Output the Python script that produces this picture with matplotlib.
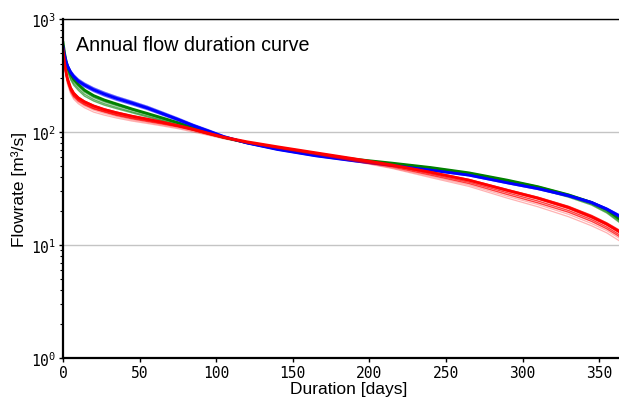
import matplotlib
matplotlib.use("Agg")
import matplotlib.pyplot as plt
from matplotlib.ticker import LogLocator, FixedLocator

days = [0, 1, 2, 3, 5, 7, 10, 14, 20, 27, 35, 45, 55, 65, 75, 85, 95, 105, 120, 140,
        165, 190, 215, 240, 265, 290, 310, 330, 345, 355, 365]

blue_1 = [570, 480, 420, 383, 338, 310, 282, 260, 236, 216, 198, 180, 163, 145, 129, 114,
          102, 91, 80, 70, 61.5, 55.5, 50.5, 46, 41.5, 35.5, 31.5, 27.3, 23.8, 20.8, 17.5]
blue_2 = [580, 492, 432, 395, 350, 322, 294, 271, 246, 225, 206, 187, 169, 150, 133, 117,
          104.5, 92.5, 81, 70.5, 62, 56, 51, 46.5, 42, 36, 32, 27.8, 24.2, 21.2, 18]
blue_3 = [560, 468, 408, 372, 328, 300, 274, 251, 228, 208, 191, 174, 158, 141, 126, 111.5,
          100, 90, 79, 69.5, 61, 55, 50, 45.5, 41, 35, 31, 26.8, 23.3, 20.4, 17]
blue_4 = [575, 486, 426, 389, 344, 316, 288, 266, 241, 220, 202, 184, 166, 148, 131, 116,
          103, 91.5, 80.5, 70, 61.5, 55.5, 50.5, 46, 41.5, 35.8, 31.8, 27.5, 24, 21, 17.8]

green_1 = [620, 500, 425, 380, 325, 293, 264, 235, 210, 192, 177, 160, 146, 133, 121, 109,
           99, 90, 80.5, 71, 63, 57.5, 53, 48.5, 43.5, 37.5, 32.8, 27.8, 23.8, 20.6, 16.3]
green_2 = [610, 490, 412, 368, 313, 282, 254, 226, 202, 185, 171, 156, 143, 130, 118.5, 107,
           97.5, 89, 80, 70.5, 62.5, 57, 52.5, 48, 43, 37, 32.5, 27.4, 23.4, 20, 16]
green_3 = [600, 478, 400, 355, 300, 270, 243, 216, 194, 178, 165, 151, 139, 127, 116, 105,
           96, 88.5, 79.5, 70.5, 62.5, 57, 52.5, 48, 43, 36.5, 32, 27, 23, 19.6, 15.6]
green_4 = [595, 470, 390, 345, 290, 260, 234, 208, 188, 173, 161, 148, 136, 125, 114, 104,
           95.5, 88, 79.5, 70.5, 62.5, 57, 52, 47.5, 42.5, 36, 31.5, 26.5, 22.6, 19.2, 15.2]
green_5 = [615, 495, 420, 375, 320, 288, 260, 231, 207, 189, 174, 158, 145, 132, 120, 108,
           98.5, 89.5, 80.5, 71, 63, 57.5, 53, 48.5, 43.5, 37.5, 33, 28, 24, 20.6, 16.8]

red_1 = [540, 410, 340, 295, 245, 220, 200, 185, 170, 158, 148, 138, 130, 122, 114, 106,
         97.5, 90, 82, 74, 65.5, 58, 51, 44, 37.5, 30.5, 26, 21.5, 17.8, 15.3, 12.7]
red_2 = [535, 402, 332, 288, 240, 215, 196, 181, 166, 155, 145, 136, 128, 120.5, 113, 105,
         97, 89.5, 81.5, 73.5, 65, 57.5, 50.5, 43.5, 37, 30, 25.5, 21, 17.4, 15, 12.4]
red_3 = [530, 395, 325, 282, 235, 210, 192, 177, 162, 152, 142, 133, 126, 119, 112, 104,
         96, 89, 81, 73, 64.5, 57, 50, 42.5, 36, 29, 24.5, 20.2, 16.8, 14.4, 11.9]
red_4 = [525, 390, 318, 276, 230, 206, 188, 174, 160, 150, 140, 131, 124, 117.5, 111, 103.5,
         95.5, 88.5, 80.5, 72.5, 64, 56, 49, 41.5, 35, 28, 23.6, 19.5, 16.2, 13.9, 11.5]
red_5 = [545, 415, 345, 300, 250, 224, 204, 188, 172, 160, 150, 139.5, 131, 123, 115, 107,
         98, 90.5, 82, 74, 65.5, 58, 51, 44.5, 38, 31, 26.5, 22, 18.3, 15.7, 13.1]
red_6 = [515, 380, 305, 262, 218, 195, 178, 164, 150, 141, 133, 125, 119, 113, 107, 100,
         93.5, 87, 79.5, 71.5, 63, 55, 47.5, 39.5, 33, 26, 21.8, 17.8, 14.8, 12.8, 10.5]
red_7 = [528, 388, 312, 270, 225, 201, 184, 170, 156, 146, 137, 128, 121.5, 115, 109, 102,
         94.5, 88, 80, 72, 63.5, 55.5, 48, 40.5, 34, 27, 22.8, 18.7, 15.5, 13.4, 11.1]

x_ticks = [0, 50, 100, 150, 200, 250, 300, 350]
y_ticks = [1, 10, 100, 1000]
y_tick_labels = ["10$^{0}$", "10$^{1}$", "10$^{2}$", "10$^{3}$"]

plt.rcParams["mathtext.fontset"] = "custom"
plt.rcParams["mathtext.rm"] = "DejaVu Sans Mono"
plt.rcParams["mathtext.it"] = "DejaVu Sans Mono"
plt.rcParams["mathtext.bf"] = "DejaVu Sans Mono"

fig = plt.figure(figsize=(6.19, 4.02), dpi=100)
# axes extends slightly past the right edge of the figure (cropped like the reference)
ax = fig.add_axes([63 / 619, 43 / 402, 572 / 619, 339 / 402])

ax.yaxis.grid(True, which="major", color="#c4c4c4", lw=1.0, zorder=0)
ax.set_axisbelow(True)

thin = dict(lw=1.0, alpha=0.6)
for s in (green_2, green_3, green_4, green_5):
    ax.plot(days, s, color="green", **thin)
ax.plot(days, green_1, color="green", lw=2.0)
for s in (blue_2, blue_3, blue_4):
    ax.plot(days, s, color="blue", **thin)
ax.plot(days, blue_1, color="blue", lw=2.0)
for s in (red_6, red_7):
    ax.plot(days, s, color="red", lw=0.9, alpha=0.3)
for s in (red_2, red_3, red_4, red_5):
    ax.plot(days, s, color="red", lw=1.0, alpha=0.75)
ax.plot(days, red_1, color="red", lw=2.0)

ax.set_yscale("log")
ax.set_ylim(1, 1000)
ax.set_xlim(0, 373.4)
ax.xaxis.set_major_locator(FixedLocator(x_ticks))
ax.set_yticks(y_ticks)
ax.yaxis.set_minor_locator(LogLocator(base=10, subs=range(2, 10), numticks=20))

for side in ("left", "bottom"):
    ax.spines[side].set_linewidth(1.6)
ax.spines["top"].set_linewidth(1.0)
ax.spines["right"].set_linewidth(1.0)

ax.tick_params(axis="both", which="major", direction="out", length=3, width=1,
               labelsize=10.5, pad=2)
ax.tick_params(axis="y", which="minor", direction="out", length=2, width=0.8)
mono = "DejaVu Sans Mono"
ax.set_xticklabels([str(t) for t in x_ticks], family=mono)
ax.set_yticklabels(y_tick_labels, family=mono)

ax.set_xlabel("Duration [days]", family="Liberation Sans", fontsize=12.5, labelpad=1)
ax.set_ylabel("Flowrate [m³/s]", family="Liberation Sans", fontsize=12.5, labelpad=3)
ax.text(13 / 572, 0.926, "Annual flow duration curve", transform=ax.transAxes,
        family="Liberation Sans", fontsize=14.2, va="center", ha="left")

fig.savefig("out.png", dpi=100)
